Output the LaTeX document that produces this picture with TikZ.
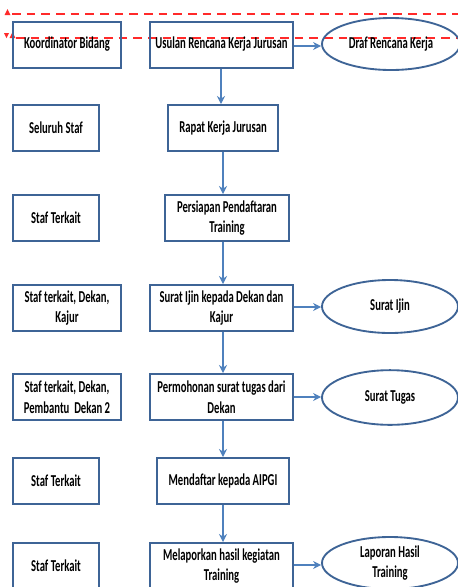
\documentclass[tikz,border=0pt]{standalone}
\usepackage{fontspec}
\setmainfont{Carlito}[FakeStretch=0.64]
\usetikzlibrary{arrows.meta,shapes.geometric}

\definecolor{boxline}{HTML}{3E6496}
\definecolor{arrowline}{HTML}{4F81BD}
\definecolor{markred}{HTML}{FF2A2A}

\tikzset{
  prosesbox/.style={draw=boxline, line width=1.5pt, rectangle, minimum height=34.5pt, align=center, inner sep=1pt, font=\bfseries\fontsize{12.5}{15.5}\selectfont},
  dokumen/.style={draw=boxline, line width=1.4pt, ellipse, align=center, inner sep=0pt, font=\bfseries\fontsize{12.5}{15.5}\selectfont},
  alur/.style={draw=arrowline, line width=1.4pt, -{Stealth[length=6pt,width=6pt]}},
  tandamerah/.style={draw=markred, line width=0.9pt, dash pattern=on 6.5pt off 4.5pt},
}

\begin{document}
\begin{tikzpicture}[x=0.75pt,y=0.75pt,yscale=-1,xscale=1]
\useasboundingbox (0,0) rectangle (458,587);

% penanda merah
\draw [tandamerah] (12,14) -- (458,14) ;
\draw [tandamerah] (16,38) -- (458,38) ;
\fill [markred] (4,33) -- (9,33) -- (6.5,38) -- cycle ;
\fill [markred] (9.5,38) -- (15.5,38) -- (12.5,32) -- cycle ;
\fill [markred] (4.5,15) -- (10.5,15) -- (7.5,9) -- cycle ;

% kolom pelaksana
\node [prosesbox, minimum width=81pt] (pel1) at (67,44.5) {Koordinator Bidang};
\node [prosesbox, minimum width=64.5pt] (pel2) at (56,128) {Seluruh Staf};
\node [prosesbox, minimum width=64.5pt] (pel3) at (56,218) {Staf Terkait};
\node [prosesbox, minimum width=81pt] (pel4) at (67,308) {Staf terkait, Dekan,\\Kajur};
\node [prosesbox, minimum width=81pt] (pel5) at (67,397) {Staf terkait, Dekan,\\Pembantu\ \ Dekan 2};
\node [prosesbox, minimum width=64.5pt] (pel6) at (56,481) {Staf Terkait};
\node [prosesbox, minimum width=64.5pt] (pel7) at (56,566) {Staf Terkait};

% kolom kegiatan
\node [prosesbox, minimum width=107pt] (keg1) at (221.5,44.5) {Usulan Rencana Kerja Jurusan};
\node [prosesbox, minimum width=82.5pt] (keg2) at (223,128) {Rapat Kerja Jurusan};
\node [prosesbox, minimum width=93pt] (keg3) at (227,218) {Persiapan Pendaftaran\\Training};
\node [prosesbox, minimum width=107pt] (keg4) at (221.5,308) {Surat Ijin kepada Dekan dan\\Kajur};
\node [prosesbox, minimum width=107pt] (keg5) at (221.5,397) {Permohonan surat tugas dari\\Dekan};
\node [prosesbox, minimum width=99pt] (keg6) at (223,481) {Mendaftar kepada AIPGI};
\node [prosesbox, minimum width=107pt] (keg7) at (221.5,566) {Melaporkan hasil kegiatan\\Training};

% kolom dokumen
\node [dokumen, minimum width=103.5pt, minimum height=39pt] (dok1) at (391,44) {Draf Rencana Kerja};
\node [dokumen, minimum width=102pt, minimum height=39.75pt] (dok4) at (390,306.5) {Surat Ijin};
\node [dokumen, minimum width=102pt, minimum height=41pt] (dok5) at (390,397.5) {Surat Tugas};
\node [dokumen, minimum width=102pt, minimum height=39pt] (dok7) at (390,563) {Laporan Hasil\\Training};

% alur kegiatan
\draw [alur] (keg1.south -| 221,0) -- (keg2.north -| 221,0) ;
\draw [alur] (keg2.south -| 223,0) -- (keg3.north -| 223,0) ;
\draw [alur] (keg3.south -| 223,0) -- (keg4.north -| 223,0) ;
\draw [alur] (keg4.south -| 223,0) -- (keg5.north -| 223,0) ;
\draw [alur] (keg5.south -| 223,0) -- (keg6.north -| 223,0) ;
\draw [alur] (keg6.south -| 223,0) -- (keg7.north -| 223,0) ;

% keluaran dokumen
\draw [alur] (keg1.east |- 0,46) -- (dok1.west |- 0,46) ;
\draw [alur] (keg4.east |- 0,307) -- (dok4.west |- 0,307) ;
\draw [alur] (keg5.east |- 0,397) -- (dok5.west |- 0,397) ;
\draw [alur] (keg7.east |- 0,565) -- (dok7.west |- 0,565) ;

\end{tikzpicture}
\end{document}
